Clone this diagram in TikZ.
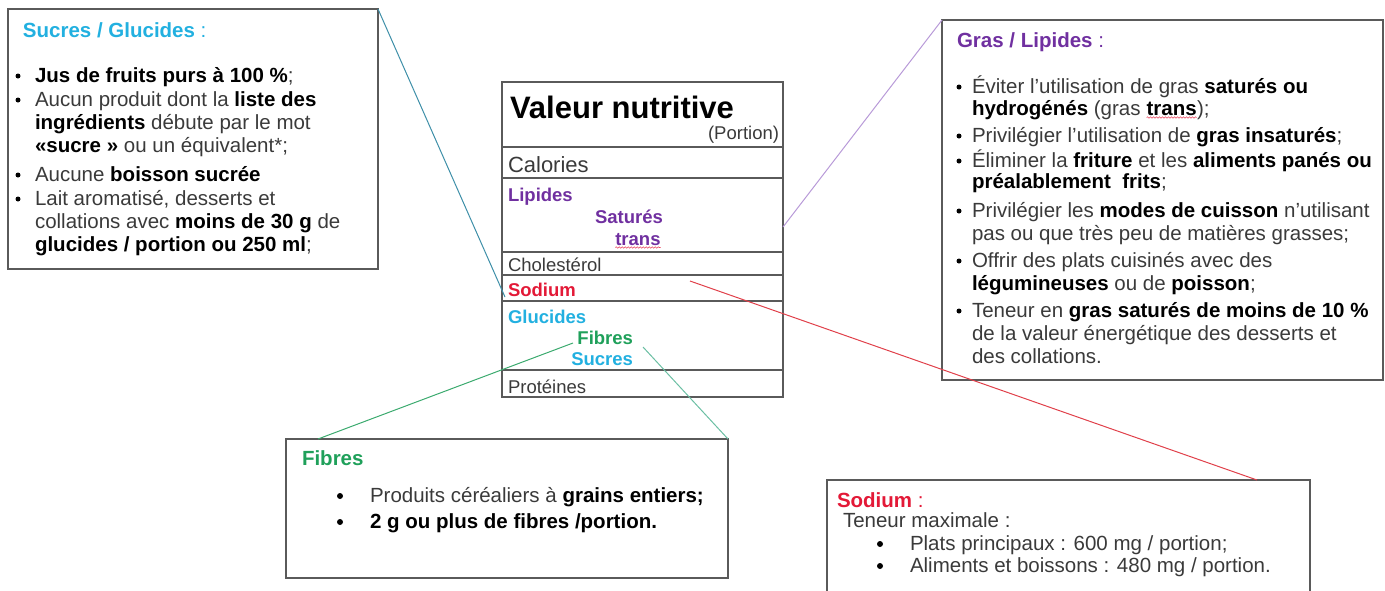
\documentclass[tikz,border=0pt]{standalone}
\usepackage{fontspec}
\setmainfont{Liberation Sans}
\usepackage{tikz}
\usetikzlibrary{calc,positioning,decorations.pathmorphing}

\definecolor{cyanT}{HTML}{22B0E0}
\definecolor{purpleT}{HTML}{7030A0}
\definecolor{redT}{HTML}{E31937}
\definecolor{greenT}{HTML}{1FA05A}
\definecolor{boxgray}{HTML}{5A5A5A}
\definecolor{bodygray}{HTML}{3A3A3A}
\definecolor{sucLink}{HTML}{3E8FA8}
\definecolor{lipLink}{HTML}{B89AD8}
\definecolor{sodLink}{HTML}{E0404A}
\definecolor{fibLinkA}{HTML}{3BAA6E}
\definecolor{fibLinkB}{HTML}{6BBFA3}

\tikzset{
  box/.style={draw=boxgray, line width=1.5pt, anchor=north west, inner sep=0pt, outer sep=0pt},
  txt/.style={anchor=base west, inner sep=0pt, outer sep=0pt, text=bodygray, font=\fontsize{20.5}{23}\selectfont},
  tbl/.style={anchor=base west, inner sep=0pt, outer sep=0pt, text=bodygray, font=\fontsize{18.5}{21}\selectfont},
  dot/.style={circle, fill=black, inner sep=0pt, minimum size=5pt},
  link/.style={line width=1pt},
}

\begin{document}
\begin{tikzpicture}[x=1pt,y=-1pt]
	\newcommand{\wavyRed}[1]{\tikz[baseline=(w.base)]{\node[inner sep=0pt,outer sep=0pt] (w) {#1};
		\draw[redT!80, line width=0.6pt, decorate, decoration={snake, amplitude=0.7pt, segment length=3pt}]
		([yshift=-2.5pt]w.base west) -- ([yshift=-2.5pt]w.base east);}}

	\useasboundingbox (0,0) rectangle (1385,590);
	\clip (0,0) rectangle (1385,590);

	% boxes
	\node[box, minimum width=370pt, minimum height=260pt] (sucres) at (8,9) {};
	\node[box, minimum width=441pt, minimum height=360pt] (gras) at (942,20) {};
	\node[box, minimum width=442pt, minimum height=139pt] (fibres) at (286,439) {};
	\node[box, minimum width=483pt, minimum height=140pt] (sodium) at (827,480) {};
	\node[box, line width=1.2pt, minimum width=281pt, minimum height=315pt] (table) at (502,82) {};

	% table rows
	\foreach \rowY in {147,178,252,275,301,370}
		\draw[boxgray, line width=1.2pt] (502,\rowY) -- (783,\rowY);

	% table text
	\node[tbl, text=black, font=\fontsize{31}{34}\selectfont\bfseries] (valeur) at (510,118) {Valeur nutritive};
	\node[tbl, anchor=base east] (portion) at (779,139) {(Portion)};
	\node[tbl, font=\fontsize{22}{25}\selectfont] (calories) at (508,172) {Calories};
	\node[tbl, text=purpleT, font=\fontsize{18.5}{21}\selectfont\bfseries] (lipides) at (508,201) {Lipides};
	\node[tbl, text=purpleT, font=\fontsize{18.5}{21}\selectfont\bfseries] (satures) at (595,223) {Saturés};
	\node[tbl, text=purpleT, font=\fontsize{18.5}{21}\selectfont\bfseries] (trans) at (615,245) {\wavyRed{trans}};
	\node[tbl] (chol) at (508,271) {Cholestérol};
	\node[tbl, text=redT, font=\fontsize{18.5}{21}\selectfont\bfseries] (sod) at (508,296) {Sodium};
	\node[tbl, text=cyanT, font=\fontsize{18.5}{21}\selectfont\bfseries] (glu) at (508,323) {Glucides};
	\node[tbl, anchor=base east, text=greenT, font=\fontsize{18.5}{21}\selectfont\bfseries] (fib) at (633,344) {Fibres};
	\node[tbl, anchor=base east, text=cyanT, font=\fontsize{18.5}{21}\selectfont\bfseries] (suc) at (633,365) {Sucres};
	\node[tbl] (prot) at (508,393) {Protéines};

	% sucres / glucides
	\node[txt, text=cyanT, font=\fontsize{20.5}{23}\selectfont\bfseries] (sucT) at (23,37) {Sucres / Glucides \textmd{:}};
	\node[txt] (s1) at (35,82) {\textcolor{black}{\bfseries Jus de fruits purs à 100 \%};};
	\node[txt] (s2) at (35,106) {Aucun produit dont la \textcolor{black}{\bfseries liste des}};
	\node[txt] (s3) at (35,129) {\textcolor{black}{\bfseries ingrédients} débute par le mot};
	\node[txt] (s4) at (35,152) {\textcolor{black}{\bfseries «sucre »} ou un équivalent*;};
	\node[txt] (s5) at (35,181) {Aucune \textcolor{black}{\bfseries boisson sucrée}};
	\node[txt] (s6) at (35,205) {Lait aromatisé, desserts et};
	\node[txt] (s7) at (35,228) {collations avec \textcolor{black}{\bfseries moins de 30 g} de};
	\node[txt] (s8) at (35,251) {\textcolor{black}{\bfseries glucides / portion ou 250 ml};};
	\foreach \n in {s1,s2,s5,s6}
		\node[dot] at ([xshift=-17pt,yshift=6pt]\n.base west) {};

	% gras / lipides
	\node[txt, text=purpleT, font=\fontsize{20.5}{23}\selectfont\bfseries] (grasT) at (957,47) {Gras / Lipides \textmd{:}};
	\node[txt] (g1) at (972,93) {Éviter l’utilisation de gras \textcolor{black}{\bfseries saturés ou}};
	\node[txt] (g2) at (972,115) {\textcolor{black}{\bfseries hydrogénés} (gras \textcolor{black}{\bfseries\wavyRed{trans}});};
	\node[txt] (g3) at (972,142) {Privilégier l’utilisation de \textcolor{black}{\bfseries gras insaturés};};
	\node[txt] (g4) at (972,167) {Éliminer la \textcolor{black}{\bfseries friture} et les \textcolor{black}{\bfseries aliments panés ou}};
	\node[txt] (g5) at (972,188) {\textcolor{black}{\bfseries préalablement\ \ frits};};
	\node[txt] (g6) at (972,217) {Privilégier les \textcolor{black}{\bfseries modes de cuisson} n’utilisant};
	\node[txt] (g7) at (972,240) {pas ou que très peu de matières grasses;};
	\node[txt] (g8) at (972,267) {Offrir des plats cuisinés avec des};
	\node[txt] (g9) at (972,290) {\textcolor{black}{\bfseries légumineuses} ou de \textcolor{black}{\bfseries poisson};};
	\node[txt] (g10) at (972,317) {Teneur en \textcolor{black}{\bfseries gras saturés de moins de 10 \%}};
	\node[txt] (g11) at (972,340) {de la valeur énergétique des desserts et};
	\node[txt] (g12) at (972,363) {des collations.};
	\foreach \n in {g1,g3,g4,g6,g8,g10}
		\node[dot] at ([xshift=-13pt,yshift=6pt]\n.base west) {};

	% fibres
	\node[txt, text=greenT, font=\fontsize{20.5}{23}\selectfont\bfseries] (fibT) at (302,465) {Fibres};
	\node[txt] (f1) at (370,502) {Produits céréaliers à \textcolor{black}{\bfseries grains entiers;}};
	\node[txt, text=black, font=\fontsize{20.5}{23}\selectfont\bfseries] (f2) at (370,528) {2 g ou plus de fibres /portion.};
	\foreach \n in {f1,f2}
		\node[dot, minimum size=6pt] at ([xshift=-30pt,yshift=6pt]\n.base west) {};

	% sodium
	\node[txt, text=redT, font=\fontsize{20.5}{23}\selectfont\bfseries] (sodT) at (837,507) {Sodium \textmd{:}};
	\node[txt] (n0) at (843,527) {Teneur maximale :};
	\node[txt] (n1) at (910,550) {Plats principaux : 600 mg / portion;};
	\node[txt] (n2) at (910,572) {Aliments et boissons : 480 mg / portion.};
	\foreach \n in {n1,n2}
		\node[dot, minimum size=6pt] at ([xshift=-30pt,yshift=6pt]\n.base west) {};

	% link points
	\coordinate (gluIn) at (505,297);
	\coordinate (lipOut) at (783,227);
	\coordinate (sodOut) at (690,281);
	\coordinate (sodIn) at ([xshift=-53pt]sodium.north east);
	\coordinate (fibOutA) at (573,343);
	\coordinate (fibInA) at ([xshift=32pt]fibres.north west);
	\coordinate (fibOutB) at (643,347);

	% draw links
	\draw[link, sucLink] (sucres.north east) -- (gluIn);
	\draw[link, lipLink] (lipOut) -- (gras.north west);
	\draw[link, sodLink] (sodOut) -- (sodIn);
	\draw[link, fibLinkA] (fibOutA) -- (fibInA);
	\draw[link, fibLinkB] (fibOutB) -- (fibres.north east);
\end{tikzpicture}
\end{document}
